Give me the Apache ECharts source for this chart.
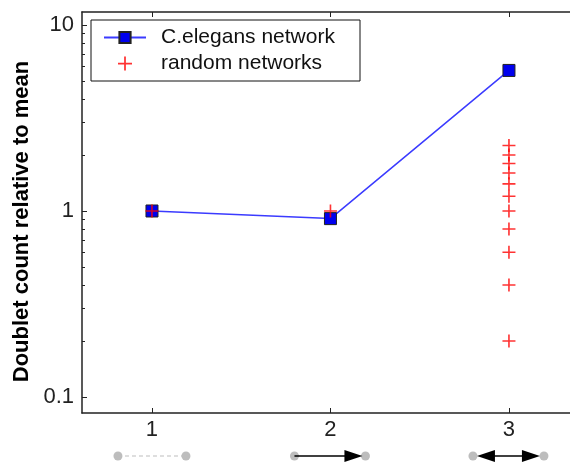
<!DOCTYPE html>
<html>
<head>
<meta charset="utf-8">
<script src="https://cdn.jsdelivr.net/npm/echarts@6/dist/echarts.min.js"></script>
<style>
  html, body { margin: 0; padding: 0; background: #fff; }
  #chart { width: 570px; height: 464px; }
</style>
</head>
<body>
<div id="chart"></div>
<script>
// motif index on x, doublet counts relative to mean on y (log)
const motifs = [1, 2, 3];
const elegansCounts = [1.0, 0.91, 5.7];
const randomMotif = [1, 2, 3, 3, 3, 3, 3, 3, 3, 3, 3, 3, 3];
const randomCounts = [1.0, 1.0, 2.25, 2.0, 1.8, 1.6, 1.4, 1.2, 1.0, 0.8, 0.6, 0.4, 0.2];
const majorTicks = [0.1, 1, 10];
const minorTicks = [0.2, 0.3, 0.4, 0.5, 0.6, 0.7, 0.8, 0.9, 2, 3, 4, 5, 6, 7, 8, 9];

const plusPath = 'path://M10.5,0H13.5V10.5H24V13.5H13.5V24H10.5V13.5H0V10.5H10.5Z';
const axisColor = '#222';
const font = 'Liberation Sans, Arial, sans-serif';

const chart = echarts.init(document.getElementById('chart'));

const yBase = {
  type: 'log',
  logBase: 10,
  min: 0.082,
  max: 11.75,
  splitLine: { show: false },
};

// x range is cut at the right edge of the picture
const xMin = 0.608;
const xMax = 3.342;

const option = {
  animation: false,
  grid: { left: 82, top: 12, right: 0, bottom: 51, containLabel: false },
  legend: {
    orient: 'vertical',
    left: 91,
    top: 20,
    padding: [7, 19, 7, 12],
    itemGap: 5,
    itemWidth: 42,
    itemHeight: 14,
    borderColor: '#111',
    borderWidth: 1,
    backgroundColor: '#fff',
    textStyle: { fontFamily: font, fontSize: 21, color: '#111', lineHeight: 20, padding: [0, 0, 0, 10], width: 180 },
    data: ['C.elegans network', 'random networks'],
    z: 10
  },
  xAxis: [
    {
      type: 'value',
      min: xMin,
      max: xMax,
      axisLine: { show: true, lineStyle: { color: axisColor, width: 1.5 } },
      axisTick: { show: true, inside: true, length: 5, customValues: motifs, lineStyle: { color: axisColor } },
      axisLabel: { customValues: motifs, fontFamily: font, fontSize: 22, color: '#222', margin: 6 },
      splitLine: { show: false }
    },
    {
      type: 'value',
      position: 'top',
      min: xMin,
      max: xMax,
      axisLine: { show: true, lineStyle: { color: axisColor, width: 1.5 } },
      axisTick: { show: true, inside: true, length: 5, customValues: motifs, lineStyle: { color: axisColor } },
      axisLabel: { show: false },
      splitLine: { show: false }
    }
  ],
  yAxis: [
    Object.assign({}, yBase, {
      name: 'Doublet count relative to mean',
      nameLocation: 'middle',
      nameGap: 46,
      nameTextStyle: { fontFamily: font, fontSize: 22, fontWeight: 'bold', color: '#000', padding: [0, 18, 0, 0] },
      axisLine: { show: true, lineStyle: { color: axisColor, width: 1.5 } },
      axisTick: { show: true, inside: true, length: 5, customValues: majorTicks, lineStyle: { color: axisColor } },
      axisLabel: {
        customValues: majorTicks,
        fontFamily: font, fontSize: 22, color: '#222', margin: 8,
        formatter: v => String(v)
      }
    }),
    Object.assign({}, yBase, {
      position: 'left',
      axisLine: { show: false },
      axisTick: { show: true, inside: true, length: 3, customValues: minorTicks, lineStyle: { color: axisColor } },
      axisLabel: { show: false }
    })
  ],
  series: [
    {
      name: 'C.elegans network',
      type: 'line',
      data: motifs.map((m, i) => [m, elegansCounts[i]]),
      symbol: 'rect',
      symbolSize: 12,
      lineStyle: { color: '#3b3bff', width: 1.5 },
      itemStyle: { color: '#0000ee', borderColor: '#222', borderWidth: 1 },
      z: 2
    },
    {
      name: 'random networks',
      type: 'scatter',
      data: randomMotif.map((m, i) => [m, randomCounts[i]]),
      symbol: plusPath,
      symbolSize: 13,
      itemStyle: { color: '#ff0000' },
      z: 3
    }
  ]
};

chart.setOption(option);

// motif pictograms under the x tick labels, placed through the x scale
const iconY = 456;
const grey = '#bdbdbd';
const elements = [];
function dot(cx) {
  return { type: 'circle', shape: { cx: cx, cy: iconY, r: 4.5 }, style: { fill: grey } };
}
function arrowHead(tip, base) {
  return { type: 'polygon', shape: { points: [[tip, iconY], [base, iconY - 6], [base, iconY + 6]] }, style: { fill: '#000' } };
}
motifs.forEach(m => {
  const cx = chart.convertToPixel({ xAxisIndex: 0 }, m);
  if (m === 1) {
    elements.push({ type: 'line', shape: { x1: cx - 34, y1: iconY, x2: cx + 34, y2: iconY }, style: { stroke: grey, lineWidth: 1.2, lineDash: [4, 3] } });
    elements.push(dot(cx - 34), dot(cx + 34));
  } else if (m === 2) {
    elements.push(dot(cx - 36), dot(cx + 35));
    elements.push({ type: 'line', shape: { x1: cx - 36, y1: iconY, x2: cx + 16, y2: iconY }, style: { stroke: '#000', lineWidth: 1.5 } });
    elements.push(arrowHead(cx + 32, cx + 14));
  } else {
    elements.push(dot(cx - 36), dot(cx + 35));
    elements.push({ type: 'line', shape: { x1: cx - 18, y1: iconY, x2: cx + 18, y2: iconY }, style: { stroke: '#000', lineWidth: 1.5 } });
    elements.push(arrowHead(cx - 32, cx - 14), arrowHead(cx + 31, cx + 13));
  }
});
chart.setOption({ graphic: elements });
</script>
</body>
</html>
